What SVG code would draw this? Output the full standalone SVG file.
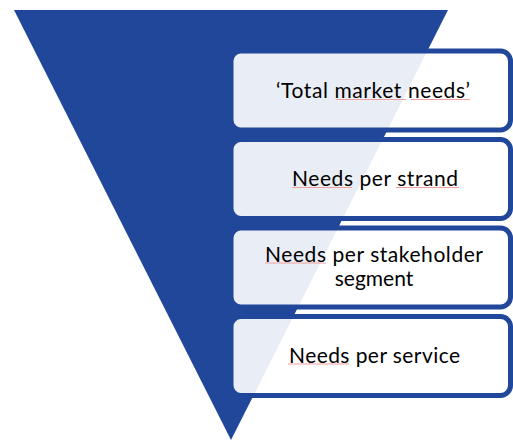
<svg xmlns="http://www.w3.org/2000/svg" width="513" height="441" viewBox="0 0 513 441">
  <style>
    .funnel { fill: #21479a; }
    .box { fill: #ffffff; fill-opacity: 0.9; stroke: #21479a; stroke-width: 5; }
    .label { font-family: Lato, "Liberation Sans", sans-serif; font-size: 21px; fill: #000000; text-anchor: middle; }
    .squiggle { stroke: #f2a0a0; stroke-width: 1; fill: none; }
  </style>
  <rect width="513" height="441" fill="#ffffff"/>

  <g id="funnel">
    <polygon class="funnel" points="14,10 448,10 231,440"/>
  </g>

  <g id="total-market-needs">
    <rect class="box" x="231" y="51" width="279.5" height="79" rx="10"/>
    <text class="label" x="373" y="98" textLength="194" lengthAdjust="spacing">‘Total market needs’</text>
    <path class="squiggle" d="M336,99.5 H406 M411,99.5 H470"/>
  </g>

  <g id="needs-per-strand">
    <rect class="box" x="231" y="139.5" width="279.5" height="79" rx="10"/>
    <text class="label" x="375" y="186" textLength="166" lengthAdjust="spacing">Needs per strand</text>
    <path class="squiggle" d="M292,187.5 H352 M396,187.5 H459"/>
  </g>

  <g id="needs-per-stakeholder-segment">
    <rect class="box" x="231" y="228" width="279.5" height="79" rx="10"/>
    <text class="label" x="374" y="261.5" textLength="218" lengthAdjust="spacing">Needs per stakeholder</text>
    <text class="label" x="374" y="285.5">segment</text>
    <path class="squiggle" d="M265,263 H326"/>
  </g>

  <g id="needs-per-service">
    <rect class="box" x="231" y="316.5" width="279.5" height="79" rx="10"/>
    <text class="label" x="374.5" y="362.5" textLength="171" lengthAdjust="spacing">Needs per service</text>
    <path class="squiggle" d="M288,364 H349"/>
  </g>
</svg>
